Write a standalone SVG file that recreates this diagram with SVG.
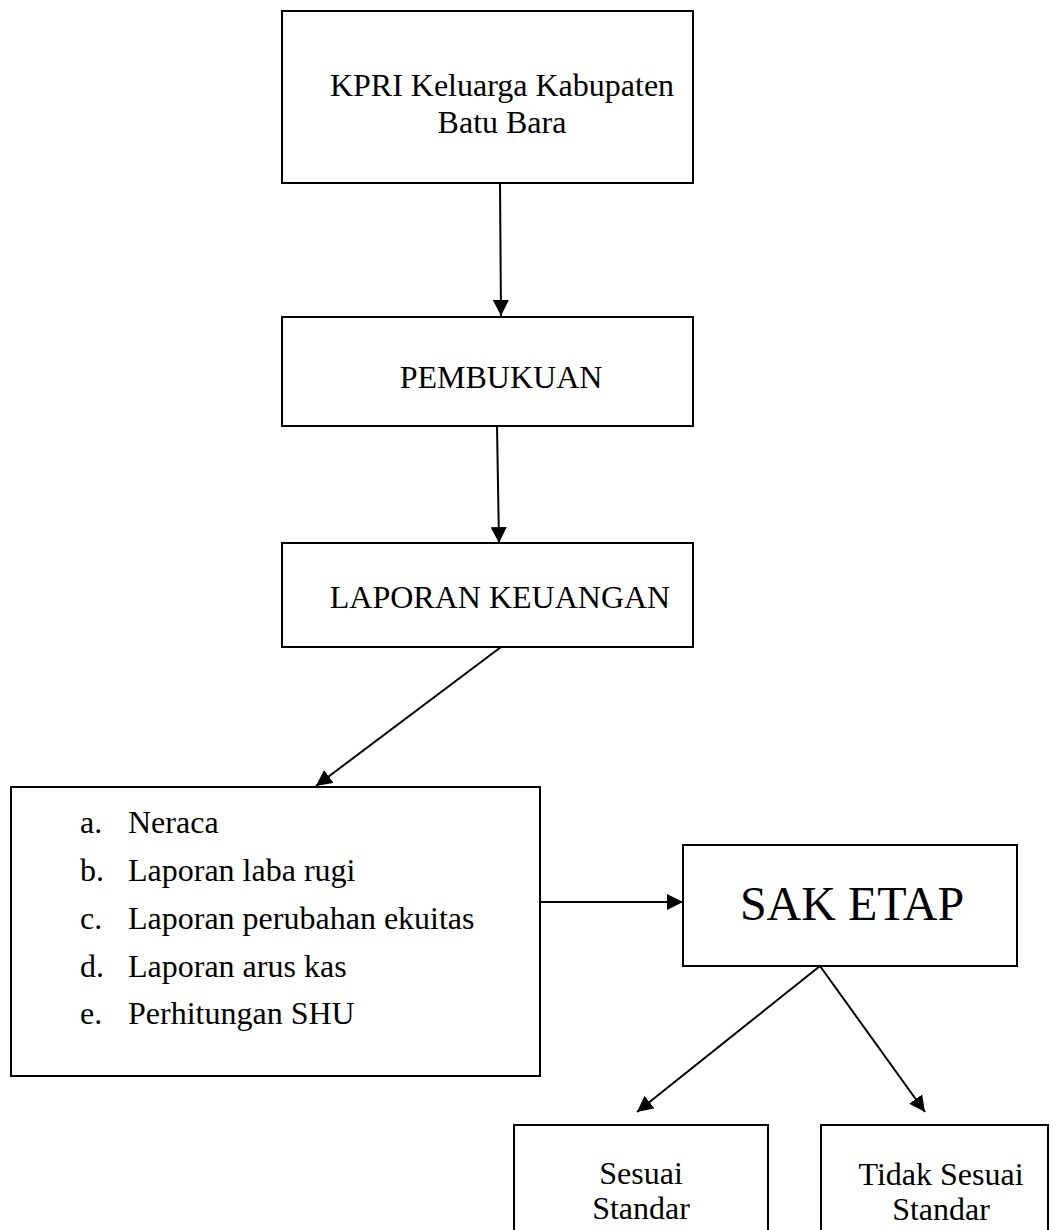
<svg xmlns="http://www.w3.org/2000/svg" width="1058" height="1230" viewBox="0 0 1058 1230">
<style>
.box{fill:#fff;stroke:#000;stroke-width:2}
.t{font-family:"Liberation Serif","Times New Roman",serif;font-size:32px;fill:#000}
.c{text-anchor:middle}
.big{font-size:48px}
.conn{stroke:#000;stroke-width:2;fill:none;marker-end:url(#ah)}
</style>
<defs>
<marker id="ah" viewBox="0 0 16 16" refX="16" refY="8" markerWidth="16" markerHeight="16" markerUnits="userSpaceOnUse" orient="auto">
<path d="M0,0 L16,8 L0,16 z" fill="#000"/>
</marker>
</defs>
<rect width="1058" height="1230" fill="#fff"/>
<g id="connectors">
<line class="conn" x1="500" y1="183" x2="501" y2="316"/>
<line class="conn" x1="497" y1="426" x2="499" y2="543"/>
<line class="conn" x1="501" y1="647" x2="316" y2="786"/>
<line class="conn" x1="540" y1="902" x2="683" y2="902"/>
<line class="conn" x1="820" y1="966" x2="637" y2="1112"/>
<line class="conn" x1="820" y1="966" x2="925" y2="1112"/>
</g>
<g id="kpri">
<rect class="box" x="282" y="11" width="411" height="172"/>
<text class="t c" x="502" y="96">KPRI Keluarga Kabupaten</text>
<text class="t c" x="502" y="133">Batu Bara</text>
</g>
<g id="pembukuan">
<rect class="box" x="282" y="317" width="411" height="109"/>
<text class="t c" x="501" y="388">PEMBUKUAN</text>
</g>
<g id="laporan">
<rect class="box" x="282" y="543" width="411" height="104"/>
<text class="t c" x="500" y="608">LAPORAN KEUANGAN</text>
</g>
<g id="list">
<rect class="box" x="11" y="787" width="529" height="289"/>
<text class="t" x="80" y="833">a.</text><text class="t" x="128" y="833">Neraca</text>
<text class="t" x="80" y="881">b.</text><text class="t" x="128" y="881">Laporan laba rugi</text>
<text class="t" x="80" y="929">c.</text><text class="t" x="128" y="929">Laporan perubahan ekuitas</text>
<text class="t" x="80" y="977">d.</text><text class="t" x="128" y="977">Laporan arus kas</text>
<text class="t" x="80" y="1024">e.</text><text class="t" x="128" y="1024">Perhitungan SHU</text>
</g>
<g id="saketap">
<rect class="box" x="683" y="845" width="334" height="121"/>
<text class="t c big" x="852" y="920">SAK ETAP</text>
</g>
<g id="sesuai">
<rect class="box" x="514" y="1125" width="254" height="120"/>
<text class="t c" x="641" y="1184">Sesuai</text>
<text class="t c" x="641" y="1219">Standar</text>
</g>
<g id="tidak">
<rect class="box" x="821" y="1125" width="227" height="120"/>
<text class="t c" x="941" y="1185">Tidak Sesuai</text>
<text class="t c" x="941" y="1220">Standar</text>
</g>
</svg>
